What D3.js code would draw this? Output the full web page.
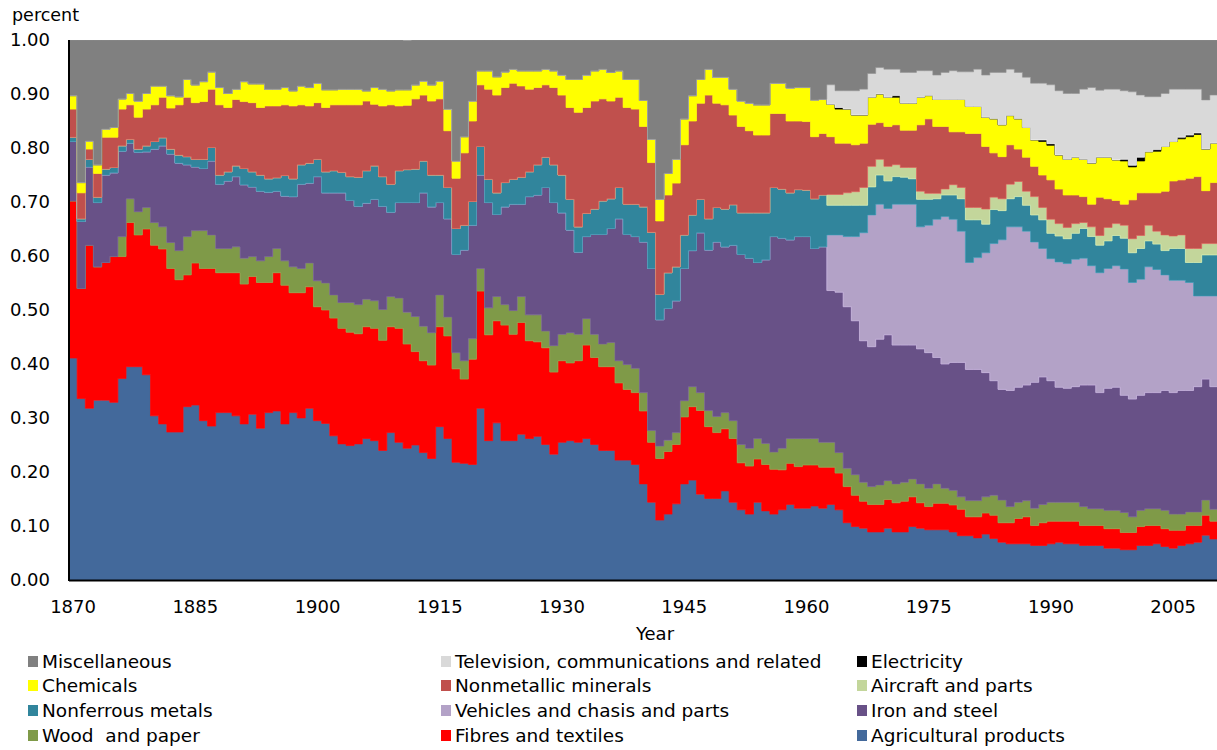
<!DOCTYPE html>
<html>
<head>
<meta charset="utf-8">
<script src="https://cdn.jsdelivr.net/npm/d3@7"></script>
<style>
  body { margin: 0; background: #fff; }
  text { font-family: "DejaVu Sans", Verdana, sans-serif; fill: #000; }
</style>
</head>
<body>
<script>
// chart data: shares of each product group, 1870-2010
var years = d3.range(1870, 2011);
var tickYears = [1870, 1885, 1900, 1915, 1930, 1945, 1960, 1975, 1990, 2005];
var yTicks = [0, 0.1, 0.2, 0.3, 0.4, 0.5, 0.6, 0.7, 0.8, 0.9, 1.0];

var agri = [
  .411,.336,.318,.333,.333,.329,.373,.395,.395,.380,
  .304,.289,.274,.274,.321,.324,.295,.285,.310,.310,
  .304,.289,.307,.281,.310,.313,.289,.310,.300,.318,
  .295,.290,.267,.252,.249,.252,.262,.258,.240,.273,
  .255,.244,.250,.236,.225,.284,.262,.218,.216,.214,
  .318,.258,.291,.258,.258,.270,.262,.266,.251,.233,
  .255,.258,.255,.262,.251,.240,.240,.222,.222,.214,
  .178,.144,.111,.122,.141,.178,.185,.159,.151,.151,
  .165,.144,.130,.122,.144,.128,.122,.130,.140,.133,
  .133,.137,.133,.140,.130,.106,.099,.096,.089,.089,
  .096,.089,.089,.099,.096,.093,.093,.093,.089,.082,
  .082,.078,.085,.077,.070,.067,.067,.067,.064,.064,
  .067,.070,.067,.067,.064,.064,.064,.059,.059,.056,
  .056,.064,.064,.067,.062,.059,.064,.067,.070,.083,
  .076];
var fibres = [
  .291,.204,.302,.247,.255,.270,.226,.267,.244,.270,
  .316,.324,.303,.282,.244,.263,.282,.292,.259,.259,
  .265,.259,.255,.270,.241,.256,.257,.222,.232,.225,
  .211,.210,.218,.214,.210,.204,.207,.208,.204,.196,
  .211,.193,.173,.170,.173,.185,.190,.173,.156,.195,
  .217,.196,.189,.214,.197,.207,.181,.175,.179,.152,
  .151,.144,.151,.173,.161,.155,.155,.143,.131,.133,
  .135,.111,.114,.116,.110,.124,.136,.155,.133,.122,
  .115,.118,.087,.089,.080,.086,.083,.074,.076,.077,
  .080,.076,.076,.069,.068,.067,.058,.050,.051,.051,
  .053,.054,.057,.055,.047,.043,.049,.049,.050,.049,
  .035,.039,.039,.043,.036,.039,.047,.050,.037,.042,
  .042,.039,.042,.042,.037,.037,.037,.036,.036,.032,
  .032,.035,.037,.034,.033,.033,.028,.034,.031,.037,
  .033];
var wood = [
  0,0,0,0,0,0,.037,.044,.043,.040,
  .042,.041,.048,.054,.071,.060,.070,.062,.045,.045,
  .048,.048,.037,.040,.048,.045,.045,.048,.045,.044,
  .048,.050,.043,.048,.055,.054,.051,.051,.057,.056,
  .056,.059,.065,.064,.060,.059,.035,.030,.034,.038,
  .042,.050,.045,.038,.044,.048,.048,.050,.031,.049,
  .049,.056,.049,.049,.043,.042,.045,.041,.046,.045,
  .034,.022,.023,.021,.022,.030,.037,.033,.030,.030,
  .030,.033,.034,.033,.038,.039,.032,.040,.046,.052,
  .049,.049,.046,.046,.038,.034,.038,.035,.033,.036,
  .035,.035,.035,.033,.035,.034,.036,.028,.027,.023,
  .030,.030,.030,.037,.042,.030,.030,.030,.032,.034,
  .035,.035,.035,.035,.035,.031,.031,.034,.034,.037,
  .029,.030,.031,.031,.034,.030,.030,.025,.025,.028,
  .022];
var iron = [
  .110,.124,.145,.119,.162,.155,.158,.103,.110,.103,
  .136,.150,.164,.162,.133,.118,.115,.137,.119,.125,
  .130,.136,.129,.129,.119,.106,.120,.130,.156,.148,
  .193,.167,.189,.203,.189,.182,.178,.188,.191,.156,
  .177,.203,.211,.247,.233,.171,.182,.182,.205,.210,
  .173,.195,.152,.181,.197,.171,.219,.222,.266,.265,
  .225,.190,.152,.152,.185,.203,.211,.263,.241,.244,
  .279,.300,.234,.244,.244,.245,.252,.296,.297,.323,
  .307,.325,.352,.352,.326,.340,.399,.389,.368,.374,
  .374,.352,.362,.281,.297,.299,.285,.262,.259,.270,
  .270,.257,.254,.248,.250,.251,.234,.230,.237,.249,
  .243,.243,.230,.212,.205,.215,.213,.214,.233,.236,
  .225,.213,.211,.214,.225,.229,.215,.226,.228,.217,
  .218,.213,.215,.215,.222,.225,.229,.225,.232,.224,
  .227];
var vehicles = [
  0,0,0,0,0,0,0,0,0,0,
  0,0,0,0,0,0,0,0,0,0,
  0,0,0,0,0,0,0,0,0,0,
  0,0,0,0,0,0,0,0,0,0,
  0,0,0,0,0,0,0,0,0,0,
  0,0,0,0,0,0,0,0,0,0,
  0,0,0,0,0,0,0,0,0,0,
  0,0,0,0,0,0,0,0,0,0,
  0,0,0,0,0,0,0,0,0,0,
  0,0,0,.103,.106,.130,.156,.200,.244,.250,
  .234,.261,.261,.261,.226,.236,.256,.273,.265,.243,
  .198,.207,.222,.254,.277,.303,.297,.285,.260,.238,
  .226,.232,.231,.236,.235,.221,.222,.222,.225,.234,
  .216,.215,.233,.228,.214,.208,.204,.200,.168,.154,
  .168];
var nonferrous = [
  .008,.005,.014,.010,.011,.010,.010,.007,.006,.011,
  .014,.015,.009,.015,.015,.014,.017,.025,.017,.017,
  .020,.030,.028,.030,.025,.025,.038,.033,.036,.037,
  .032,.039,.041,.038,.044,.054,.060,.062,.055,.052,
  .059,.061,.062,.059,.059,.051,.058,.048,.046,.044,
  .053,.043,.040,.045,.046,.050,.046,.056,.056,.070,
  .070,.057,.047,.043,.047,.062,.055,.058,.056,.060,
  .065,.067,.047,.066,.063,.062,.066,.062,.058,.064,
  .070,.075,.077,.084,.092,.087,.091,.091,.087,.087,
  .086,.092,.096,.055,.055,.058,.058,.051,.052,.054,
  .051,.051,.050,.047,.051,.048,.038,.040,.045,.060,
  .079,.070,.053,.063,.054,.052,.056,.048,.050,.053,
  .047,.048,.046,.048,.055,.054,.051,.051,.056,.057,
  .055,.057,.048,.047,.045,.059,.059,.037,.062,.076,
  .076];
var aircraft = [
  0,0,0,0,0,0,0,0,0,0,
  0,0,0,0,0,0,0,0,0,0,
  0,0,0,0,0,0,0,0,0,0,
  0,0,0,0,0,0,0,0,0,0,
  0,0,0,0,0,0,0,0,0,0,
  0,0,0,0,0,0,0,0,0,0,
  0,0,0,0,0,0,0,0,0,0,
  0,0,0,0,0,0,0,0,0,0,
  0,0,0,0,0,0,0,0,0,0,
  0,0,0,.020,.020,.023,.025,.033,.038,.029,
  .027,.022,.018,.021,.015,.011,.010,.011,.019,.021,
  .023,.023,.028,.023,.022,.027,.028,.026,.034,.023,
  .026,.023,.021,.018,.011,.018,.018,.025,.022,.024,
  .026,.024,.029,.024,.029,.023,.025,.026,.026,.021,
  .021];
var nonmetallic = [
  .052,.048,.019,.044,.059,.056,.068,.064,.059,.068,
  .068,.075,.076,.093,.110,.105,.107,.108,.130,.119,
  .123,.124,.128,.125,.135,.133,.131,.135,.111,.106,
  .105,.119,.122,.125,.133,.134,.129,.114,.131,.147,
  .120,.119,.130,.122,.137,.141,.105,.093,.134,.149,
  .114,.167,.181,.176,.178,.169,.153,.143,.134,.143,
  .148,.170,.212,.196,.200,.189,.181,.167,.179,.176,
  .149,.129,.136,.144,.155,.167,.174,.178,.229,.193,
  .193,.166,.160,.152,.144,.144,.137,.140,.133,.127,
  .127,.115,.114,.107,.095,.092,.087,.082,.078,.068,
  .074,.074,.069,.069,.123,.138,.124,.116,.098,.103,
  .137,.137,.116,.082,.078,.073,.060,.063,.056,.060,
  .073,.064,.060,.053,.048,.042,.071,.053,.043,.039,
  .072,.079,.060,.071,.081,.102,.102,.130,.133,.098,
  .113];
var chemicals = [
  .025,.019,.015,.016,.015,.018,.019,.021,.030,.029,
  .035,.021,.023,.015,.033,.033,.037,.032,.032,.026,
  .019,.037,.035,.044,.031,.031,.032,.028,.035,.034,
  .036,.033,.028,.029,.029,.029,.019,.031,.031,.026,
  .030,.029,.026,.026,.030,.033,.040,.032,.030,.037,
  .026,.034,.034,.029,.026,.028,.034,.031,.029,.031,
  .037,.052,.061,.060,.056,.055,.053,.049,.052,.055,
  .048,.043,.040,.040,.044,.048,.047,.044,.048,.048,
  .051,.048,.047,.051,.056,.056,.056,.056,.061,.062,
  .063,.068,.063,.060,.063,.063,.055,.052,.050,.053,
  .054,.051,.050,.050,.051,.043,.050,.050,.060,.060,
  .050,.050,.054,.063,.059,.054,.056,.055,.049,.062,
  .064,.063,.066,.070,.069,.076,.074,.077,.075,.080,
  .061,.059,.076,.077,.083,.073,.076,.077,.078,.077,
  .073];
var electricity = [
  0,0,0,0,0,0,0,0,0,0,
  0,0,0,0,0,0,0,0,0,0,
  0,0,0,0,0,0,0,0,0,0,
  0,0,0,0,0,0,0,0,0,0,
  0,0,0,0,0,0,0,0,0,0,
  0,0,0,0,0,0,0,0,0,0,
  0,0,0,0,0,0,0,0,0,0,
  0,0,0,0,0,0,0,0,0,0,
  0,0,0,0,0,0,0,0,0,0,
  0,0,0,0,.003,0,0,0,0,0,
  0,.003,0,0,0,0,0,0,0,0,
  0,0,0,0,0,0,0,0,0,.003,
  .003,0,0,0,0,0,0,0,0,.003,
  .003,.007,0,.003,0,0,.003,.003,.003,0,
  0];
var television = [
  0,0,0,0,0,0,0,0,0,0,
  0,0,0,0,0,0,0,0,0,0,
  0,0,0,0,0,0,0,0,0,0,
  0,0,0,0,0,0,0,0,0,0,
  0,0,0,0,0,0,0,0,0,0,
  0,0,0,0,0,0,0,0,0,0,
  0,0,0,0,0,0,0,0,0,0,
  0,0,0,0,0,0,0,0,0,0,
  0,0,0,0,0,0,0,0,0,0,
  0,0,0,.036,.031,.034,.045,.048,.044,.049,
  .052,.049,.057,.057,.049,.046,.045,.050,.053,.051,
  .064,.069,.078,.086,.097,.086,.086,.093,.105,.105,
  .109,.119,.122,.118,.130,.140,.124,.126,.131,.127,
  .136,.115,.102,.098,.098,.097,.089,.085,.081,.091,
  .089];
var misc = [
  .103,.264,.187,.231,.165,.162,.109,.099,.113,.099,
  .085,.085,.103,.105,.073,.083,.077,.059,.088,.099,
  .091,.077,.081,.081,.091,.091,.088,.094,.085,.088,
  .080,.092,.092,.091,.091,.091,.094,.088,.091,.094,
  .092,.091,.083,.076,.083,.076,.128,.224,.179,.113,
  .057,.057,.068,.059,.054,.057,.057,.057,.054,.057,
  .065,.073,.073,.065,.057,.054,.060,.057,.073,.073,
  .112,.184,.295,.247,.221,.146,.103,.073,.054,.069,
  .069,.091,.113,.117,.120,.120,.080,.080,.089,.088,
  .088,.111,.110,.083,.094,.094,.094,.091,.062,.051,
  .054,.054,.060,.060,.057,.057,.065,.060,.057,.059,
  .059,.054,.065,.060,.060,.054,.060,.069,.080,.080,
  .083,.094,.099,.099,.091,.088,.093,.091,.091,.094,
  .096,.102,.105,.105,.099,.091,.091,.091,.091,.111,
  .102];

// series, bottom to top
var series = [
  {key: 'agri', name: 'Agricultural products', values: agri, color: '#43699b'},
  {key: 'fibres', name: 'Fibres and textiles', values: fibres, color: '#ff0000'},
  {key: 'wood', name: 'Wood  and paper', values: wood, color: '#7f9a48'},
  {key: 'iron', name: 'Iron and steel', values: iron, color: '#685187'},
  {key: 'vehicles', name: 'Vehicles and chasis and parts', values: vehicles, color: '#b3a2c7'},
  {key: 'nonferrous', name: 'Nonferrous metals', values: nonferrous, color: '#31859c'},
  {key: 'aircraft', name: 'Aircraft and parts', values: aircraft, color: '#c3d69b'},
  {key: 'nonmetallic', name: 'Nonmetallic minerals', values: nonmetallic, color: '#c0504d'},
  {key: 'chemicals', name: 'Chemicals', values: chemicals, color: '#ffff00'},
  {key: 'electricity', name: 'Electricity', values: electricity, color: '#000000'},
  {key: 'television', name: 'Television, communications and related', values: television, color: '#d9d9d9'},
  {key: 'misc', name: 'Miscellaneous', values: misc, color: '#808080'}
];

// legend order (rows of three)
var legendOrder = ['misc','television','electricity','chemicals','nonmetallic','aircraft',
                   'nonferrous','vehicles','iron','wood','fibres','agri'];

var W = 1217, H = 750;
var plot = {left: 69, right: 1218, top: 40, bottom: 580};

var svg = d3.select('body').append('svg')
  .attr('width', W)
  .attr('height', H);

var x = d3.scaleLinear().domain([1870, 2011]).range([plot.left, plot.right]);
var y = d3.scaleLinear().domain([0, 1]).range([plot.bottom, plot.top]);

// rows for stacking (+ one closing row so the last step has width)
var rows = years.map(function(yr, i){
  var r = {year: yr};
  series.forEach(function(s){ r[s.key] = s.values[i]; });
  return r;
});
var last = Object.assign({}, rows[rows.length-1]);
last.year = 2011;
rows.push(last);

var stack = d3.stack().keys(series.map(function(s){ return s.key; }));
var stacked = stack(rows);

svg.append('clipPath').attr('id','clip')
  .append('rect')
  .attr('x', plot.left).attr('y', plot.top)
  .attr('width', plot.right - plot.left).attr('height', plot.bottom - plot.top);

var area = d3.area()
  .curve(d3.curveStepAfter)
  .x(function(d){ return x(d.data.year); })
  .y0(function(d){ return y(d[0]); })
  .y1(function(d){ return y(d[1]); });

var colorOf = {};
series.forEach(function(s){ colorOf[s.key] = s.color; });

svg.append('g').attr('clip-path','url(#clip)')
  .selectAll('path').data(stacked)
  .enter().append('path')
  .attr('d', area)
  .attr('fill', function(d){ return colorOf[d.key]; })
  .attr('stroke', function(d){ return d3.color(colorOf[d.key]).brighter(0.35); })
  .attr('stroke-width', 0.7);

// axes lines
svg.append('line')
  .attr('x1', plot.left).attr('x2', plot.left)
  .attr('y1', plot.top).attr('y2', plot.bottom + 1)
  .attr('stroke', '#000').attr('stroke-width', 2);
svg.append('line')
  .attr('x1', plot.left).attr('x2', plot.right)
  .attr('y1', plot.bottom + 0.5).attr('y2', plot.bottom + 0.5)
  .attr('stroke', '#000').attr('stroke-width', 2);

// y tick labels
svg.selectAll('.ytick').data(yTicks)
  .enter().append('text')
  .attr('class','ytick')
  .attr('x', 50)
  .attr('y', function(d){ return y(d); })
  .attr('dy', '0.36em')
  .attr('text-anchor', 'end')
  .style('font-size', '18px')
  .text(function(d){ return d3.format('.2f')(d); });

// x tick labels, centred on the year step
svg.selectAll('.xtick').data(tickYears)
  .enter().append('text')
  .attr('class','xtick')
  .attr('x', function(d){ return x(d + 0.5); })
  .attr('y', 613)
  .attr('text-anchor', 'middle')
  .style('font-size', '18px')
  .text(function(d){ return d; });

svg.append('text')
  .attr('x', 12).attr('y', 21)
  .style('font-size', '17.5px')
  .text('percent');

svg.append('text')
  .attr('x', 655).attr('y', 640)
  .attr('text-anchor', 'middle')
  .style('font-size', '18px')
  .text('Year');

// legend
var colX = [28, 441, 857];
var rowY = [662, 686, 711, 736];
var byKey = {};
series.forEach(function(s){ byKey[s.key] = s; });

var leg = svg.selectAll('.leg').data(legendOrder)
  .enter().append('g')
  .attr('class','leg')
  .attr('transform', function(d, i){
    return 'translate(' + colX[i % 3] + ',' + rowY[Math.floor(i / 3)] + ')';
  });
leg.append('rect')
  .attr('x', 0).attr('y', -6)
  .attr('width', 10).attr('height', 11)
  .attr('fill', function(d){ return byKey[d].color; });
leg.append('text')
  .attr('x', 14).attr('y', 0)
  .attr('dy', '0.35em')
  .style('font-size', '18.5px')
  .style('white-space', 'pre')
  .text(function(d){ return byKey[d].name; });
</script>
</body>
</html>
